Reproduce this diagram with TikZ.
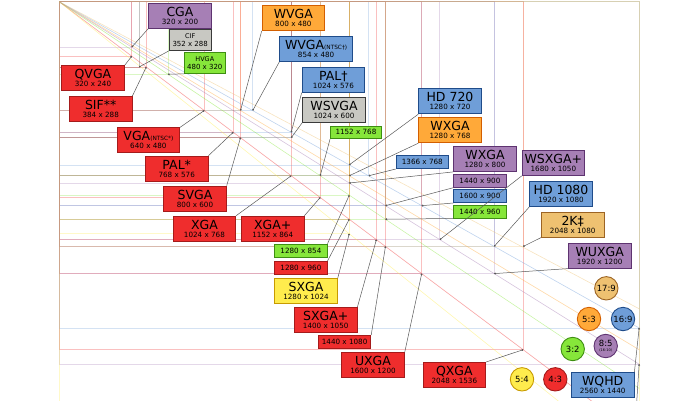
\documentclass[tikz,border=0pt]{standalone}
\usepackage{fontspec}
\setmainfont{DejaVu Sans}
\usetikzlibrary{arrows.meta}

% 每种宽高比的颜色（F 填充，D 边框）
\definecolor{redF}{HTML}{EF2D2D}\definecolor{redD}{HTML}{A51B1B}
\definecolor{purF}{HTML}{A67FB5}\definecolor{purD}{HTML}{5E3370}
\definecolor{gryF}{HTML}{C8C8C2}\definecolor{gryD}{HTML}{3A3A3A}
\definecolor{grnF}{HTML}{86E63A}\definecolor{grnD}{HTML}{3E8E12}
\definecolor{orgF}{HTML}{FFA939}\definecolor{orgD}{HTML}{D35F00}
\definecolor{bluF}{HTML}{6F9ED8}\definecolor{bluD}{HTML}{1F4C8A}
\definecolor{yelF}{HTML}{FFEC4D}\definecolor{yelD}{HTML}{C79A00}
\definecolor{tanF}{HTML}{EEC171}\definecolor{tanD}{HTML}{9C6424}

\tikzset{
    resline/.style={line width=0.7pt, draw opacity=0.3},
    diag/.style={line width=0.6pt, draw opacity=0.45},
    lead/.style={draw=black!65, line width=0.5pt, -{Circle[length=1.8pt]}},
    bigbox/.style={draw, line width=0.9pt, anchor=north west, minimum width=62.5pt,
        minimum height=25pt, inner sep=0pt, align=center, font=\fontsize{7.2}{8}\selectfont},
    midbox/.style={draw, line width=0.9pt, anchor=north west, minimum width=41.5pt,
        minimum height=20.6pt, inner sep=0pt, align=center, font=\fontsize{7}{8.5}\selectfont},
    smallbox/.style={draw, line width=0.9pt, anchor=north west, minimum width=52.3pt,
        minimum height=12.8pt, inner sep=0pt, font=\fontsize{7.2}{8}\selectfont},
    ratio/.style={circle, draw, line width=0.9pt, minimum size=23.4pt, inner sep=0pt,
        align=center, font=\fontsize{8.5}{8.5}\selectfont},
    redbox/.style={fill=redF, draw=redD},
    purbox/.style={fill=purF, draw=purD},
    grybox/.style={fill=gryF, draw=gryD},
    grnbox/.style={fill=grnF, draw=grnD},
    orgbox/.style={fill=orgF, draw=orgD},
    blubox/.style={fill=bluF, draw=bluD},
    yelbox/.style={fill=yelF, draw=yelD},
    tanbox/.style={fill=tanF, draw=tanD},
}

\newcommand{\bigname}[1]{{\fontsize{12.5}{8}\selectfont #1}}
\newcommand{\tagname}[1]{{\fontsize{5.8}{8}\selectfont #1}}
\newcommand{\midname}[1]{{\fontsize{6.5}{8.5}\selectfont #1}}

\begin{document}
\begin{tikzpicture}[x=1pt, y=-1pt]
    % 原点与比例（像素 / 分辨率）
    \def\ox{59.3}
    \def\oy{1.8}
    \def\sc{0.2265}

    \useasboundingbox (0,0) rectangle (700,400);
    \clip (0,0) rectangle (700,400);

    % --- 分辨率矩形与对角线 ---
    \begin{scope}[shift={(\ox,\oy)}, scale=\sc]
        \foreach \w/\h/\c in {320/200/purF, 320/240/redF, 352/288/gryD, 384/288/redF,
            480/320/grnF, 640/480/redF, 800/480/orgF, 854/480/bluF, 768/576/redF,
            800/600/redF, 1024/576/bluF, 1024/600/gryD, 1024/768/redF, 1152/768/grnF,
            1152/864/redF, 1280/720/bluF, 1280/768/orgF, 1366/768/bluF, 1280/800/purF,
            1280/854/grnF, 1280/960/redF, 1280/1024/yelF, 1440/900/purF, 1600/900/bluF,
            1440/960/grnF, 1400/1050/redF, 1680/1050/purF, 1440/1080/redF,
            1920/1080/bluF, 2048/1080/tanF, 1600/1200/redF, 1920/1200/purF,
            2048/1536/redF, 2560/1440/bluF, 2560/1600/purF, 2560/2048/yelF}{
            \draw[resline, draw=\c] (0,0) rectangle (\w,\h);
            \coordinate (r\w x\h) at (\w,\h);
        }
        % 宽高比对角线
        \foreach \c/\q in {redF/0.75, yelF/0.8, grnF/0.6667, purF/0.625,
            orgF/0.6, bluF/0.5625, tanF/0.5294}{
            \draw[diag, draw=\c] (0,0) -- (2560,2560*\q);
        }
    \end{scope}

    % --- 标签 ---
    \node[bigbox, purbox] (CGA) at (148.3,2.7) {\bigname{CGA}\\320 x 200};
    \node[midbox, grybox] (CIF) at (169,29.3) {\midname{CIF}\\352 x 288};
    \node[midbox, grnbox, minimum width=40.7pt] (HVGA) at (184,52.3) {\midname{HVGA}\\480 x 320};
    \node[bigbox, redbox, minimum width=63pt] (QVGA) at (61,65) {\bigname{QVGA}\\320 x 240};
    \node[bigbox, redbox] (SIF) at (69,96) {\bigname{SIF**}\\384 x 288};
    \node[bigbox, redbox] (VGA) at (116.7,127.3) {\bigname{VGA}\tagname{(NTSC*)}\\640 x 480};
    \node[bigbox, redbox] (PALs) at (145,155.7) {\bigname{PAL*}\\768 x 576};
    \node[bigbox, redbox] (SVGA) at (163.3,185.7) {\bigname{SVGA}\\800 x 600};
    \node[bigbox, redbox] (XGA) at (172.7,215.7) {\bigname{XGA}\\1024 x 768};
    \node[bigbox, redbox] (XGAp) at (241,215.7) {\bigname{XGA+}\\1152 x 864};
    \node[bigbox, orgbox] (WVGA) at (261.7,5) {\bigname{WVGA}\\800 x 480};
    \node[bigbox, blubox, minimum width=72.7pt] (WVGAn) at (279.3,36) {\bigname{WVGA}\tagname{(NTSC†)}\\854 x 480};
    \node[bigbox, blubox] (PALd) at (301.7,66.7) {\bigname{PAL†}\\1024 x 576};
    \node[bigbox, grybox] (WSVGA) at (302.3,96.7) {\bigname{WSVGA}\\1024 x 600};
    \node[smallbox, grnbox, minimum width=51pt] (s1152) at (330,125.5) {1152 x 768};
    \node[bigbox, blubox] (HDsv) at (418.3,88.3) {\bigname{HD 720}\\1280 x 720};
    \node[bigbox, orgbox] (WXGAo) at (418.3,117.3) {\bigname{WXGA}\\1280 x 768};
    \node[smallbox, blubox] (s1366) at (395.7,155.3) {1366 x 768};
    \node[bigbox, purbox] (WXGAp) at (453.3,146) {\bigname{WXGA}\\1280 x 800};
    \node[smallbox, purbox] (s1440a) at (453.3,174) {1440 x 900};
    \node[smallbox, blubox] (s1600) at (453.3,189.3) {1600 x 900};
    \node[smallbox, grnbox] (s1440b) at (453.3,204.7) {1440 x 960};
    \node[bigbox, purbox] (WSXGA) at (521.7,150) {\bigname{WSXGA+}\\1680 x 1050};
    \node[bigbox, blubox] (HDtt) at (529.3,181) {\bigname{HD 1080}\\1920 x 1080};
    \node[bigbox, tanbox] (TwoK) at (541,211.7) {\bigname{2K‡}\\2048 x 1080};
    \node[bigbox, purbox] (WUXGA) at (568,242.7) {\bigname{WUXGA}\\1920 x 1200};
    \node[smallbox, grnbox, minimum height=13.6pt] (s1280a) at (274.3,243.7) {1280 x 854};
    \node[smallbox, redbox, minimum height=13.3pt] (s1280b) at (274.3,261) {1280 x 960};
    \node[bigbox, yelbox] (SXGA) at (274.3,278.3) {\bigname{SXGA}\\1280 x 1024};
    \node[bigbox, redbox] (SXGAp) at (294,307) {\bigname{SXGA+}\\1400 x 1050};
    \node[smallbox, redbox, minimum height=13.3pt] (s1440c) at (318,335) {1440 x 1080};
    \node[bigbox, redbox] (UXGA) at (341.3,352.3) {\bigname{UXGA}\\1600 x 1200};
    \node[bigbox, redbox] (QXGA) at (422.7,362) {\bigname{QXGA}\\2048 x 1536};
    \node[bigbox, blubox] (WQHD) at (571,372) {\bigname{WQHD}\\2560 x 1440};
    \coordinate (offWQXGA) at (636.7,402);

    % --- 引线 ---
    \draw[lead] (CGA.south west) -- (r320x200);
    \draw[lead] (QVGA.north east) -- (r320x240);
    \draw[lead] (CIF.south west) -- (r352x288);
    \draw[lead] (SIF.north east) -- (r384x288);
    \draw[lead] (HVGA.south west) -- (r480x320);
    \draw[lead] (VGA.north east) -- (r640x480);
    \draw[lead] (WVGA.south west) -- (r800x480);
    \draw[lead] (WVGAn.south west) -- (r854x480);
    \draw[lead] (PALs.north east) -- (r768x576);
    \draw[lead] (SVGA.north east) -- (r800x600);
    \draw[lead] (PALd.south west) -- (r1024x576);
    \draw[lead] (WSVGA.south west) -- (r1024x600);
    \draw[lead] (XGA.north east) -- (r1024x768);
    \draw[lead] (XGAp.north east) -- (r1152x864);
    \draw[lead] (s1152.south west) -- (r1152x768);
    \draw[lead] (HDsv.south west) -- (r1280x720);
    \draw[lead] (WXGAo.south west) -- (r1280x768);
    \draw[lead] (s1366.south west) -- (r1366x768);
    \draw[lead] (WXGAp.south west) -- (r1280x800);
    \draw[lead] (s1440a.south west) -- (r1440x900);
    \draw[lead] (s1600.south west) -- (r1600x900);
    \draw[lead] (s1440b.south west) -- (r1440x960);
    \draw[lead] (WSXGA.south west) -- (r1680x1050);
    \draw[lead] (HDtt.south west) -- (r1920x1080);
    \draw[lead] (TwoK.south west) -- (r2048x1080);
    \draw[lead] (WUXGA.south west) -- (r1920x1200);
    \draw[lead] (s1280a.north east) -- (r1280x854);
    \draw[lead] (s1280b.north east) -- (r1280x960);
    \draw[lead] (SXGA.north east) -- (r1280x1024);
    \draw[lead] (SXGAp.north east) -- (r1400x1050);
    \draw[lead] (s1440c.north east) -- (r1440x1080);
    \draw[lead] (UXGA.north east) -- (r1600x1200);
    \draw[lead] (QXGA.north east) -- (r2048x1536);
    \draw[lead] (WQHD.north east) -- (r2560x1440);
    \draw[lead] (offWQXGA) -- (r2560x1600);

    % --- 宽高比圆 ---
    \node[ratio, tanbox] (aSeventeen) at (606.3,288.3) {17:9};
    \node[ratio, orgbox] (aFiveThree) at (589,319) {5:3};
    \node[ratio, blubox] (aSixteen) at (623,319) {16:9};
    \node[ratio, grnbox] (aThreeTwo) at (572.7,349) {3:2};
    \node[ratio, purbox] (aEightFive) at (605.7,346) {8:5\\[-3pt]{\fontsize{3.5}{4}\selectfont (16:10)}};
    \node[ratio, yelbox] (aFiveFour) at (522,379.3) {5:4};
    \node[ratio, redbox] (aFourThree) at (555.3,379.3) {4:3};

\end{tikzpicture}
\end{document}
